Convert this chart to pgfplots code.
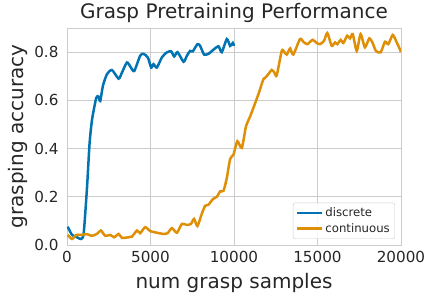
\documentclass[border=0pt]{standalone}
\usepackage{pgfplots}
\pgfplotsset{compat=1.18}
\usepackage{fontspec}
\setmainfont{DejaVu Sans}
\definecolor{sbblue}{HTML}{0173B2}
\definecolor{sborange}{HTML}{DE8F05}
\definecolor{gridc}{HTML}{CCCCCC}
\definecolor{txt}{HTML}{262626}
\begin{document}
\begin{tikzpicture}
\begin{axis}[
  at={(0,0)}, anchor=south west,
  scale only axis, width=334pt, height=217pt,
  xmin=0, xmax=20000, ymin=0, ymax=0.9,
  xtick={0,5000,10000,15000,20000},
  ytick={0,0.2,0.4,0.6,0.8},
  scaled ticks=false,
  /pgf/number format/assume math mode=true,
  xticklabel style={/pgf/number format/1000 sep={}, font=\fontsize{15.2}{18}\selectfont, text=txt, yshift=-3pt},
  yticklabel style={/pgf/number format/fixed, /pgf/number format/fixed zerofill, /pgf/number format/precision=1, font=\fontsize{15.2}{18}\selectfont, text=txt, xshift=-5pt},
  grid=major, major grid style={gridc, line width=0.8pt},
  axis line style={gridc, line width=0.9pt},
  tick style={draw=none},
  title={Grasp Pretraining Performance},
  title style={font=\fontsize{20}{24}\selectfont, text=txt, yshift=-4pt},
  xlabel={num grasp samples}, ylabel={grasping accuracy},
  xlabel style={font=\fontsize{20}{24}\selectfont, text=txt, yshift=-3pt},
  ylabel style={font=\fontsize{20}{24}\selectfont, text=txt, yshift=0pt},
  legend style={at={(rel axis cs:0.982,0.028)}, anchor=south east, draw=gridc, rounded corners=2pt, fill=white, fill opacity=0.85, text opacity=1, font=\fontsize{11.7}{14}\selectfont, text=txt, row sep=1pt, inner sep=3pt},
  legend cell align=left,
  legend image code/.code={\draw[#1, line width=2.3pt] (0pt,0pt) -- (25pt,0pt);},
]
\addplot[sbblue, line width=2.5pt, smooth, tension=0.4] coordinates {
(40,0.076) (300,0.042) (600,0.032) (840,0.025) (1000,0.049) (1200,0.24) (1350,0.42)
(1500,0.52) (1750,0.61) (1890,0.615) (1990,0.597) (2150,0.66) (2390,0.708) (2690,0.726)
(3090,0.69) (3290,0.715) (3590,0.757) (3830,0.736) (4030,0.722) (4380,0.785) (4580,0.793)
(4840,0.778) (5040,0.736) (5180,0.75) (5380,0.736) (5680,0.778) (5980,0.799) (6240,0.803)
(6420,0.782) (6620,0.8) (6980,0.76) (7180,0.785) (7370,0.805) (7530,0.803) (7810,0.833)
(7970,0.826) (8210,0.79) (8470,0.793) (8770,0.81) (9070,0.824) (9270,0.8) (9570,0.854)
(9770,0.826) (9930,0.838) (10000,0.826)
};
\addlegendentry{discrete}
\addplot[sborange, line width=2.5pt, smooth, tension=0.4] coordinates {
(40,0.042) (300,0.025) (560,0.042) (840,0.042) (1200,0.045) (1490,0.038) (1790,0.046)
(2030,0.06) (2290,0.038) (2590,0.042) (2830,0.032) (3090,0.046) (3290,0.03) (3690,0.032)
(3890,0.035) (4190,0.06) (4380,0.049) (4680,0.074) (4980,0.058) (5380,0.051) (5780,0.046)
(6020,0.049) (6280,0.07) (6580,0.051) (6880,0.0875) (7180,0.083) (7420,0.0875) (7610,0.108)
(7810,0.079) (8070,0.129) (8270,0.1625) (8470,0.167) (8730,0.19) (8970,0.2) (9170,0.222)
(9370,0.225) (9570,0.278) (9770,0.357) (9970,0.375) (10200,0.43) (10470,0.403) (10720,0.493)
(10960,0.532) (11460,0.625) (11760,0.6875) (11960,0.7) (12260,0.726) (12420,0.715) (12560,0.704)
(12860,0.805) (13020,0.8) (13160,0.79) (13360,0.815) (13550,0.79) (13950,0.854) (14150,0.843)
(14390,0.833) (14710,0.851) (14950,0.838) (15150,0.833) (15390,0.847) (15590,0.879) (15850,0.826)
(16050,0.84) (16190,0.833) (16390,0.851) (16550,0.838) (16780,0.868) (16950,0.857) (17110,0.875)
(17350,0.805) (17580,0.875) (17840,0.82) (18100,0.857) (18300,0.838) (18500,0.805) (18780,0.799)
(19040,0.843) (19240,0.833) (19500,0.871) (19700,0.847) (19930,0.8125) (20000,0.80)
};
\addlegendentry{continuous}
\end{axis}
\pgfresetboundingbox
\path (-67pt,-56pt) rectangle (367pt,245pt);
\end{tikzpicture}
\end{document}
